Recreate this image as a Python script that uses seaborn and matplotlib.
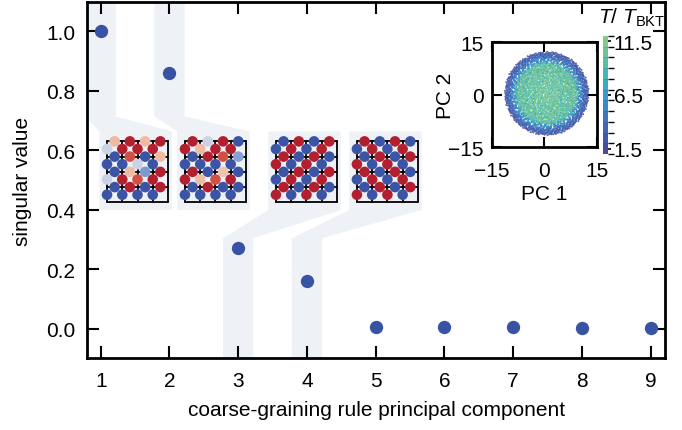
import numpy as np
import matplotlib
matplotlib.use("Agg")
import matplotlib.pyplot as plt
from matplotlib.colors import LinearSegmentedColormap, ListedColormap, BoundaryNorm
from matplotlib.cm import ScalarMappable
import seaborn as sns

# ---------------------------------------------------------------- data
components = [1, 2, 3, 4, 5, 6, 7, 8, 9]
singular_values = [1.0, 0.861, 0.270, 0.160, 0.006, 0.005, 0.004, 0.003, 0.003]
y_ticks = [0.0, 0.2, 0.4, 0.6, 0.8, 1.0]

# components whose coarse-graining rule is drawn as a 4x4 bond lattice
pictured_components = [1, 2, 3, 4]

# bond weights of each rule: horizontal bonds (row j, bond i) and vertical bonds
# (row j, site i); -1 is blue, +1 is red
rule_h = [
    [[0.3, 1, 0.3, 1], [-1, 0.75, -1, 0.3], [-1, 0.3, -0.55, 1], [-1, 1, -1, 1]],
    [[1, -0.15, 1, -1], [-1, 1, 0.75, -0.5], [1, -1, 0.25, -1], [-1, 1, -1, -1]],
    [[-1, 1, -1, 1], [1, -1, 1, -1], [-1, 1, -1, 1], [1, -1, 1, -1]],
    [[1, -1, 1, -1], [-1, 1, -1, 1], [1, -1, 1, -1], [-1, 1, -1, 1]],
]
rule_v = [
    [[-0.15, 1, 1, 1], [-1, -1, -0.15, -1], [-0.15, 1, 0.75, 1], [-1, -1, -1, -1]],
    [[1, 0.3, 1, 1], [-1, -1, -1, -1], [1, 0.3, 0.75, 1], [-1, -1, -1, -1]],
    [[-1, 1, -1, 1], [1, -1, 1, -1], [-1, 1, -1, 1], [1, -1, 1, -1]],
    [[-1, 1, -1, 1], [1, -1, 1, -1], [-1, 1, -1, 1], [1, -1, 1, -1]],
]

# principal-component projection of the configurations, per temperature:
# each temperature fills an annulus in the PC1/PC2 plane
temperatures = [1.5, 2.5, 3.5, 4.5, 5.5, 6.5, 7.5, 8.5, 9.5, 10.5, 11.5]
pc_r_inner = [10.3, 9.8, 9.0, 8.0, 6.0, 3.0, 0.0, 0.0, 0.0, 0.0, 0.0]
pc_r_outer = [12.0, 11.8, 11.5, 11.2, 10.8, 10.0, 9.5, 9.0, 9.0, 8.5, 8.5]
pc_counts = [420, 380, 360, 340, 340, 340, 340, 340, 340, 340, 340]
pc_center = (0.7, 0.3)
pc_ticks = [-15, 0, 15]
temp_bounds = [1, 2, 3, 4, 5, 6, 7, 8, 9, 10, 11, 12]
temp_ticks = [1.5, 6.5, 11.5]

# ---------------------------------------------------------------- style
sns.set_theme(style="ticks")
FS = 15
plt.rcParams.update({
    "font.family": ["Liberation Sans", "DejaVu Sans"],
    "font.size": FS,
    "mathtext.fontset": "custom",
    "mathtext.rm": "Liberation Sans",
    "mathtext.it": "Liberation Sans:italic",
    "mathtext.bf": "Liberation Sans:bold",
    "axes.edgecolor": "black",
    "axes.labelcolor": "black",
    "text.color": "black",
    "xtick.color": "black",
    "ytick.color": "black",
    "axes.linewidth": 2.0,
})

point_color = "#3953a4"
band_color = "#eef2f6"
spin_cmap = LinearSegmentedColormap.from_list(
    "spin", [(0.0, "#3b54a6"), (0.22, "#7b98d3"), (0.45, "#d4d9e8"),
             (0.62, "#f2c8b2"), (0.82, "#e0674c"), (1.0, "#b21f2e")])
temp_cmap = ListedColormap(["#4a4c9c", "#4657a8", "#4266b3", "#3d77bf", "#3a89c9",
                            "#389bcd", "#3aabc6", "#45b7b6", "#58c0a5", "#6cc697",
                            "#80cb8c"])
temp_norm = BoundaryNorm(temp_bounds, temp_cmap.N)

fig = plt.figure(figsize=(6.82, 4.31), dpi=100)
ax = fig.add_axes([0.128, 0.1664, 0.847, 0.8273])
xlim = (0.805, 9.21)
ylim = (-0.1, 1.1)

# ---------------------------------------------------------------- main scatter
sns.scatterplot(x=components, y=singular_values, ax=ax, color=point_color,
                s=92, linewidth=0, zorder=4, legend=False)

ax.set_xlim(*xlim)
ax.set_ylim(*ylim)
ax.set_xticks(components)
ax.set_yticks(y_ticks)
ax.set_yticklabels([f"{v:.1f}" for v in y_ticks])
ax.tick_params(axis="both", direction="in", top=True, right=True,
               length=8.5, width=1.5, labelsize=FS)
ax.tick_params(axis="x", pad=9.5)
ax.tick_params(axis="y", pad=8.5)
for s in ax.spines.values():
    s.set_linewidth(2.0)
    s.set_color("black")
ax.set_xlabel("coarse-graining rule principal component", fontsize=FS)
ax.set_ylabel("singular value", fontsize=FS)
ax.xaxis.set_label_coords(0.5, -0.118)
ax.yaxis.set_label_coords(-0.096, 0.5)

# ---------------------------------------------------------------- lattice panels
cell_x = 0.2218          # one lattice cell in x data units
cell_y = 0.0513          # one lattice cell in y data units
lattice_left = [1.092, 2.226, 3.550, 4.728]
lattice_top = 0.630
pad_l, pad_r, pad_t, pad_b = 0.5, 0.25, 0.65, 4.5
half_w = 0.22
bend_top, bend_bottom = 0.714, 0.304

for idx, comp in enumerate(pictured_components):
    x0 = lattice_left[idx] - pad_l * cell_x
    x1 = lattice_left[idx] + (4 + pad_r) * cell_x
    yt = lattice_top + pad_t * cell_y
    yb = lattice_top - pad_b * cell_y
    xs = [comp - half_w, comp + half_w, comp + half_w, x1, x1, x0, x0, comp - half_w]
    if singular_values[comp - 1] > 0.5:
        ys = [ylim[1], ylim[1], bend_top, yt, yb, yb, yt, bend_top]
    else:
        ys = [ylim[0], ylim[0], bend_bottom, yb, yt, yt, yb, bend_bottom]
    ax.fill(xs, ys, color=band_color, lw=0, zorder=0.5)

    lax = ax.inset_axes([x0, yb, x1 - x0, yt - yb], transform=ax.transData)
    lax.set_xlim(-pad_l, 4 + pad_r)
    lax.set_ylim(pad_b, -pad_t)
    lax.axis("off")
    lax.patch.set_alpha(0)
    for k in range(5):
        lax.plot([k, k], [0, 4], color="black", lw=1.3, zorder=1)
        lax.plot([0, 4], [k, k], color="black", lw=1.3, zorder=1)
    hx, hy, hv, vx, vy, vv = [], [], [], [], [], []
    for j in range(4):
        for i in range(4):
            hx.append(i + 0.5); hy.append(j); hv.append(rule_h[idx][j][i])
            vx.append(i); vy.append(j + 0.5); vv.append(rule_v[idx][j][i])
    lax.scatter(hx + vx, hy + vy, c=hv + vv, cmap=spin_cmap, vmin=-1, vmax=1,
                s=58, linewidths=0, zorder=3)

# ---------------------------------------------------------------- PCA inset
def radical_inverse(i, base):
    f, r = 1.0 / base, 0.0
    while i > 0:
        r += f * (i % base)
        i //= base
        f /= base
    return r

# quasi-uniform filling of each annulus (Halton sequence, bases 2 and 3)
px, py, pt = [], [], []
start = 17
for T, r_in, r_out, n in zip(temperatures, pc_r_inner, pc_r_outer, pc_counts):
    k = range(start, start + n)
    u = np.array([radical_inverse(i, 2) for i in k])
    v = np.array([radical_inverse(i, 3) for i in k])
    theta = 2 * np.pi * v
    r = np.sqrt(r_in ** 2 + u * (r_out ** 2 - r_in ** 2))
    px.extend(pc_center[0] + r * np.cos(theta))
    py.extend(pc_center[1] + r * np.sin(theta))
    pt.extend([T] * n)
    start += n

axc = fig.add_axes([0.7207, 0.6566, 0.1547, 0.2436])
axc.scatter(px, py, c=pt, cmap=temp_cmap, norm=temp_norm, s=2.0,
            linewidths=0, alpha=0.85, zorder=2)
axc.set_xlim(-15, 15)
axc.set_ylim(-15, 15)
axc.set_xticks(pc_ticks)
axc.set_yticks(pc_ticks)
axc.tick_params(axis="both", direction="in", top=True, right=True,
                length=7, width=1.5, labelsize=FS)
axc.tick_params(axis="x", pad=10)
axc.tick_params(axis="y", pad=5.5)
for s in axc.spines.values():
    s.set_linewidth(2.0)
    s.set_color("black")
axc.set_xlabel("PC 1", fontsize=FS)
axc.set_ylabel("PC 2", fontsize=FS)
axc.xaxis.set_label_coords(0.5, -0.35)
axc.yaxis.set_label_coords(-0.345, 0.5)

cax = fig.add_axes([0.8842, 0.6404, 0.0073, 0.2738])
cb = fig.colorbar(ScalarMappable(norm=temp_norm, cmap=temp_cmap), cax=cax,
                  ticks=temp_ticks, drawedges=True)
cb.outline.set_visible(False)
cb.dividers.set_color((0.2, 0.3, 0.5, 0.25))
cb.dividers.set_linewidth(0.6)
cax.set_yticklabels([f"{t:g}" for t in temp_ticks])
cax.tick_params(direction="out", length=2.5, width=1.2, pad=1.5, labelsize=FS)
fig.text(0.9262, 0.958, r"$T$/ $T_{\mathrm{BKT}}$", ha="center", va="center",
         fontsize=FS)

fig.savefig("out.png", dpi=100)
